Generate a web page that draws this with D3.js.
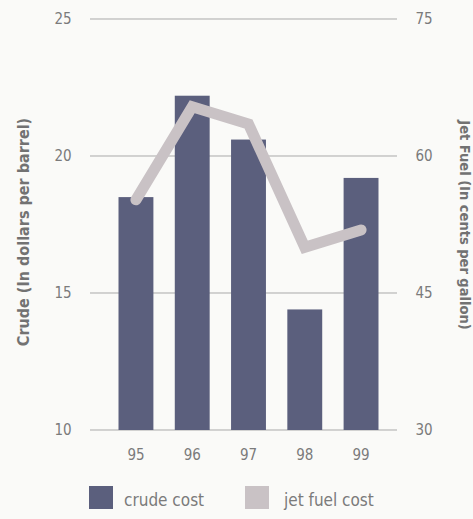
<!DOCTYPE html>
<html>
<head>
<meta charset="utf-8">
<script src="https://cdn.jsdelivr.net/npm/d3@7"></script>
<style>
  html, body { margin: 0; padding: 0; background: #fafaf8; }
  svg { display: block; }
  text { font-family: "DejaVu Sans Condensed", "DejaVu Sans", sans-serif; font-stretch: condensed; }
</style>
</head>
<body>
<svg id="chart" width="473" height="519"></svg>
<script>
// Years shown along the bottom
const years = ["95", "96", "97", "98", "99"];
// Crude oil cost, dollars per barrel (left axis)
const crudeCost = [18.5, 22.2, 20.6, 14.4, 19.2];
// Jet fuel cost, cents per gallon (right axis)
const jetFuelCost = [55.2, 65.4, 63.5, 50.0, 51.9];
// Tick values on the two axes
const crudeTicks = [10, 15, 20, 25];
const jetTicks = [30, 45, 60, 75];
// Legend entries
const legendLabels = ["crude cost", "jet fuel cost"];

const barColor = "#5b5f7d";
const lineColor = "#c9c2c5";
const gridColor = "#a9a9a9";
const textColor = "#7b7b7b";

const svg = d3.select("#chart");

const plotLeft = 90, plotRight = 397, plotTop = 19, plotBottom = 430;

const x = d3.scaleBand().domain(years).range([96, 401]).paddingInner(0.38).paddingOuter(0.4);
const yLeft = d3.scaleLinear().domain([10, 25]).range([plotBottom, plotTop]);
const yRight = d3.scaleLinear().domain([30, 75]).range([plotBottom, plotTop]);

// Horizontal gridlines
svg.append("g")
  .selectAll("line")
  .data(crudeTicks)
  .join("line")
  .attr("x1", plotLeft).attr("x2", plotRight)
  .attr("y1", d => yLeft(d)).attr("y2", d => yLeft(d))
  .attr("stroke", gridColor).attr("stroke-width", 1);

// Left axis tick labels
const leftAxis = d3.axisLeft(yLeft).tickValues(crudeTicks).tickSize(0).tickPadding(0);
const gL = svg.append("g").attr("transform", "translate(70,0)").call(leftAxis);
gL.select(".domain").remove();
gL.selectAll("text").attr("fill", textColor).attr("font-size", 15).attr("text-anchor", "middle").attr("dx", -7);

// Right axis tick labels
const rightAxis = d3.axisRight(yRight).tickValues(jetTicks).tickSize(0).tickPadding(0);
const gR = svg.append("g").attr("transform", "translate(416,0)").call(rightAxis);
gR.select(".domain").remove();
gR.selectAll("text").attr("fill", textColor).attr("font-size", 15).attr("text-anchor", "middle").attr("dx", 8);

// Bars for crude cost
svg.append("g")
  .selectAll("rect")
  .data(crudeCost)
  .join("rect")
  .attr("x", (d, i) => x(years[i]))
  .attr("width", x.bandwidth())
  .attr("y", d => yLeft(d))
  .attr("height", d => plotBottom - yLeft(d))
  .attr("fill", barColor);

// Jet fuel line
const line = d3.line()
  .x((d, i) => x(years[i]) + x.bandwidth() / 2)
  .y(d => yRight(d));
svg.append("path")
  .datum(jetFuelCost)
  .attr("d", line)
  .attr("fill", "none")
  .attr("stroke", lineColor)
  .attr("stroke-width", 11)
  .attr("stroke-linejoin", "miter")
  .attr("stroke-linecap", "round");

// Bottom axis year labels
const bottomAxis = d3.axisBottom(x).tickSize(0).tickPadding(0);
const gB = svg.append("g").attr("transform", "translate(0,451)").call(bottomAxis);
gB.select(".domain").remove();
gB.selectAll("text").attr("fill", textColor).attr("font-size", 15).attr("dy", "0.6em");

// Axis titles
svg.append("text")
  .attr("transform", "translate(29,232) rotate(-90)")
  .attr("text-anchor", "middle")
  .attr("fill", "#727272")
  .attr("font-size", 16)
  .attr("font-weight", "bold")
  .text("Crude (In dollars per barrel)");

svg.append("text")
  .attr("transform", "translate(460,225) rotate(90)")
  .attr("text-anchor", "middle")
  .attr("fill", "#727272")
  .attr("font-size", 14.5)
  .attr("font-weight", "bold")
  .text("Jet Fuel (In cents per gallon)");

// Legend
const legendX = [89, 245];
const legendColors = [barColor, lineColor];
const legend = svg.append("g").selectAll("g")
  .data(legendLabels)
  .join("g")
  .attr("transform", (d, i) => `translate(${legendX[i]},486)`);
legend.append("rect")
  .attr("width", 24).attr("height", 23)
  .attr("fill", (d, i) => legendColors[i]);
legend.append("text")
  .attr("x", (d, i) => i === 0 ? 35 : 39)
  .attr("y", 20)
  .attr("fill", textColor)
  .attr("font-size", 17)
  .text(d => d);
</script>
</body>
</html>
